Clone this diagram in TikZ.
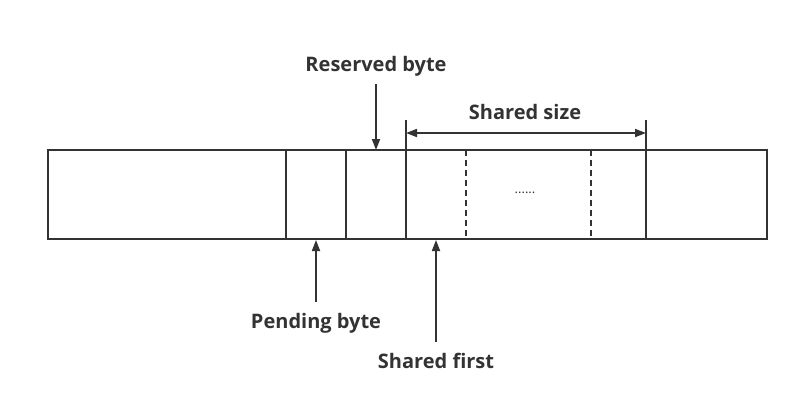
\documentclass[tikz,border=0pt]{standalone}
\usepackage{fontspec}
\setmainfont{Open Sans}
\usetikzlibrary{arrows.meta,positioning}
\definecolor{ink}{HTML}{333333}
\tikzset{
  line/.style={line width=1.7pt, draw=ink},
  pointer/.style={line, -{Triangle[length=11pt,width=8pt]}},
  twoway/.style={line, {Triangle[length=11pt,width=8pt]}-{Triangle[length=11pt,width=8pt]}},
  tag/.style={font=\bfseries\fontsize{20}{24}\selectfont, text=ink, inner sep=0pt}
}
\begin{document}
\begin{tikzpicture}[x=1pt,y=-1pt]
			\useasboundingbox (0,0) rectangle (799,413);
			
			% buffer
			\draw[line] (48,150) rectangle (767,239);
			\foreach \x in {286,346,406,646}
				\draw[line] (\x,150) -- (\x,239);
			\foreach \x in {466,591}
				\draw[line, dash pattern=on 6pt off 4pt] (\x,150) -- (\x,239);
			\node[text=ink, font=\fontsize{13}{14}\selectfont] (dots) at (525,193) {......};
			
			% reserved byte
			\node[tag] (reserved) at (376,66) {Reserved byte};
			\coordinate (reservedtail) at (376,84);
			\coordinate (reservedtip) at (376,150);
			\draw[pointer] (reservedtail) -- (reservedtip);
			
			% shared size
			\coordinate (sizeleft) at (406,133);
			\coordinate (sizeright) at (646,133);
			\draw[line] (406,120) -- (406,150);
			\draw[line] (646,120) -- (646,150);
			\draw[twoway] (sizeleft) -- (sizeright);
			\node[tag] (size) at (525,112) {Shared size};
			
			% pending byte
			\node[tag] (pending) at (316,323) {Pending byte};
			\coordinate (pendingtip) at (316,240);
			\coordinate (pendingtail) at (316,302);
			\draw[pointer] (pendingtail) -- (pendingtip);
			
			% shared first
			\node[tag] (first) at (436,361) {Shared first};
			\coordinate (firsttip) at (436,240);
			\coordinate (firsttail) at (436,342);
			\draw[pointer] (firsttail) -- (firsttip);
\end{tikzpicture}
\end{document}
